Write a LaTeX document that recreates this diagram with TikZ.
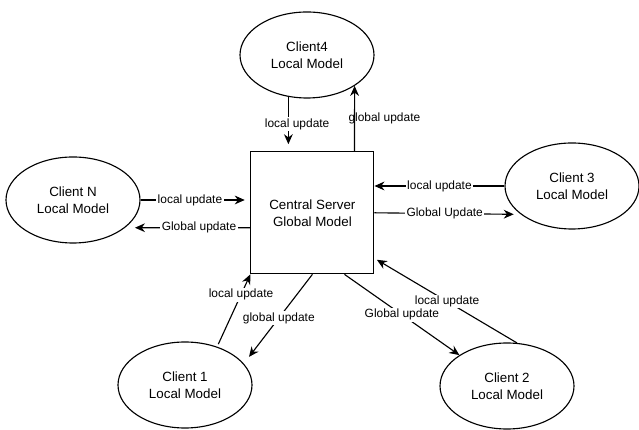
\documentclass[tikz,border=0pt]{standalone}
\usepackage{fontspec}
\setmainfont{Liberation Sans}
\usepackage{tikz}
\usetikzlibrary{shapes.geometric}
\usetikzlibrary{arrows.meta}

\tikzset{
  client/.style={ellipse, draw, line width=0.8pt, minimum width=3.35cm,
    minimum height=2.15cm, align=center, font=\fontsize{9.5}{12}\selectfont},
  server/.style={rectangle, draw, line width=0.8pt, minimum width=3.075cm,
    minimum height=3.05cm, align=center, font=\fontsize{9.5}{12}\selectfont},
  flow/.style={line width=0.8pt, -{Stealth[length=2.5mm, width=2.2mm]}},
  lbl/.style={fill=white, inner sep=1pt, font=\fontsize{8.5}{10}\selectfont},
}

\begin{document}
\begin{tikzpicture}[scale=1]
  \useasboundingbox (0,0) rectangle (15.975,10.75);

  \node[server] (srv) at (7.81,5.43) {Central Server\\Global Model};
  \node[client] (c4) at (7.675,9.375) {Client4\\Local Model};
  \node[client] (cN) at (1.825,5.75) {Client N\\Local Model};
  \node[client] (c3) at (14.3,6.1) {Client 3\\Local Model};
  \node[client] (c1) at (4.625,1.125) {Client 1\\Local Model};
  \node[client] (c2) at (12.675,1.1) {Client 2\\Local Model};

  % client 4
  \draw[flow, shorten >=5pt]
    (c4.246)
    --
    (c4.246 |- srv.north) node[lbl, pos=0.5, xshift=0.22cm] {local update};
  \draw[flow]
    ([xshift=-0.5cm]srv.north east)
    --
    (c4.327) node[lbl, fill=none, pos=0.5, anchor=west, xshift=-0.2cm] {global update};

  % client N
  \draw[flow, shorten >=4pt]
    (cN.east)
    --
    (cN.east -| srv.west) node[lbl, pos=0.45] {local update};
  \draw[flow, shorten >=7pt]
    ([yshift=-0.375cm]srv.west)
    --
    (cN.332) node[lbl, pos=0.41] {Global update};

  % client 3
  \draw[flow]
    (c3.west)
    --
    (c3.west -| srv.east) node[lbl, pos=0.5] {local update};
  \draw[flow, shorten >=5pt]
    (srv.east)
    --
    (c3.209) node[lbl, pos=0.48] {Global Update};

  % client 1
  \draw[flow, shorten <=2pt]
    (c1.50)
    --
    (srv.south west) node[lbl, pos=0.72] {local update};
  \draw[flow, shorten >=6pt]
    (srv.south)
    --
    (c1.20) node[lbl, pos=0.49] {global update};

  % client 2
  \draw[flow]
    ([xshift=-0.75cm]srv.south east)
    --
    (c2.147) node[lbl, pos=0.5] {Global update};
  \draw[flow, shorten >=2pt]
    (c2.77)
    --
    ([yshift=0.4cm]srv.south east) node[lbl, pos=0.49] {local update};
\end{tikzpicture}
\end{document}
